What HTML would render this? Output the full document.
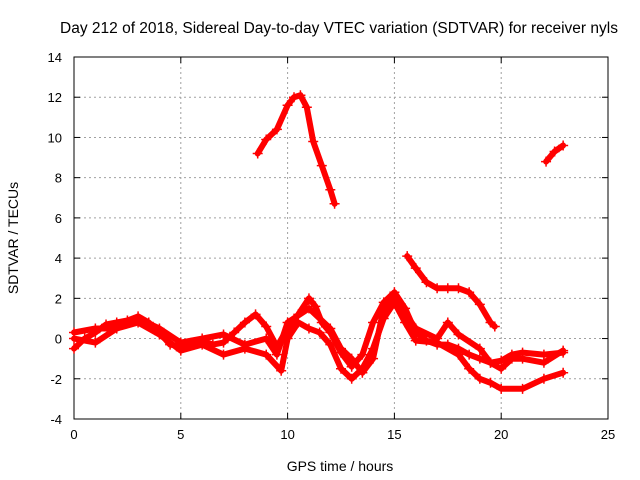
<!DOCTYPE html>
<html><head><meta charset="utf-8"><style>
body{margin:0;background:#fff;}
svg{display:block;font-family:"Liberation Sans",sans-serif;}
</style></head><body>
<svg id="chart" width="640" height="480" viewBox="0 0 640 480">
<rect width="640" height="480" fill="#fff"/>
<text x="339" y="33" font-size="15.5" text-anchor="middle">Day 212 of 2018, Sidereal Day-to-day VTEC variation (SDTVAR) for receiver nyls</text>
<g id="grid"></g>
<g id="axes"></g>
<g id="series"></g>
<text x="340" y="471" font-size="14" text-anchor="middle">GPS time / hours</text>
<text x="0" y="0" font-size="14" text-anchor="middle" transform="translate(18,238) rotate(-90)">SDTVAR / TECUs</text>
</svg>
<script>
const xTicks=[0,5,10,15,20,25];
const yTicks=[-4,-2,0,2,4,6,8,10,12,14];
const seriesA_t=[8.6,9,9.5,10,10.3,10.6,10.9,11.2,11.6,12,12.2];
const seriesA_v=[9.2,9.9,10.4,11.6,12,12.1,11.5,9.8,8.6,7.4,6.7];
const seriesB_t=[22.1,22.5,22.9];
const seriesB_v=[8.8,9.3,9.6];
const seriesC_t=[15.6,16,16.5,17,17.5,18,18.5,19,19.5,19.7];
const seriesC_v=[4.1,3.5,2.8,2.5,2.5,2.5,2.3,1.7,0.8,0.6];
const seriesD_t=[0,0.5,1,1.5,2,2.5,3,3.5,4,4.5,5,5.5,6,6.5,7,7.5,8,8.5,9,9.5,10,10.5,11,11.3,11.6,12,12.5,13,13.5,14,14.5,15,15.5,16,16.5,17,17.5,18,18.5,19,19.5,20,20.5,21,22,22.9];
const seriesD_v=[-0.5,0,0.3,0.7,0.8,0.9,1.1,0.8,0.3,-0.3,-0.4,-0.2,-0.1,-0.3,-0.2,0.3,0.8,1.2,0.6,-0.4,0.5,1.2,2,1.6,0.8,0.3,-0.7,-1.4,-0.8,0.8,1.8,2.3,1.5,0.3,-0.1,-0.3,-0.3,-0.5,-0.8,-1,-1.2,-1.1,-0.8,-0.7,-0.8,-0.7];
const seriesE_t=[0,1,2,3,4,5,6,7,8,9,9.7,10,10.5,11,11.5,12,12.5,13,13.5,14,14.5,15,15.5,16,17,18,18.5,19,19.5,20,21,22,22.9];
const seriesE_v=[0.3,0.5,0.5,0.8,0.2,-0.6,-0.3,-0.8,-0.5,-0.8,-1.6,0,0.8,0.5,0.3,-0.3,-1.5,-2,-1.5,-0.5,1,1.8,0.8,-0.1,-0.2,-0.8,-1.5,-2,-2.2,-2.5,-2.5,-2,-1.7];
const seriesF_t=[0,1,2,3,4,5,6,7,8,9,9.5,10,11,12,12.5,13,13.5,14,14.5,15,16,17,17.5,18,19,19.5,20,20.5,21,22,22.9];
const seriesF_v=[0,-0.2,0.5,1,0.5,-0.2,0,0.2,-0.3,0,-0.8,0.8,1.5,0.5,-0.5,-1,-1.7,-1,1.5,2,0.5,0,0.8,0.2,-0.5,-1.2,-1.5,-1,-1,-1.2,-0.6];
const allSeries=[[seriesA_t,seriesA_v],[seriesB_t,seriesB_v],[seriesC_t,seriesC_v],[seriesD_t,seriesD_v],[seriesE_t,seriesE_v],[seriesF_t,seriesF_v]];
const L=74,R=608,T=57,B=419,xMin=0,xMax=25,yMin=-4,yMax=14;
function xs(v){return L+(v-xMin)/(xMax-xMin)*(R-L);}
function ys(v){return B-(v-yMin)/(yMax-yMin)*(B-T);}
const NS="http://www.w3.org/2000/svg";
function mk(tag,attrs,parent){const e=document.createElementNS(NS,tag);for(const k in attrs)e.setAttribute(k,attrs[k]);parent.appendChild(e);return e;}
const grid=document.getElementById('grid'),axes=document.getElementById('axes'),ser=document.getElementById('series');
xTicks.forEach(t=>{
  const x=xs(t);
  if(t>xMin&&t<xMax){const g=mk('line',{x1:x,x2:x,y1:T,y2:B,stroke:'#a0a0a0','stroke-dasharray':'2,3','stroke-width':1},grid);
  
  }
  const tk=mk('text',{x:x,y:B+20,'font-size':13,'text-anchor':'middle'},axes);tk.textContent=t;
  
  
  mk('line',{x1:x,x2:x,y1:B,y2:B-6,stroke:'#000'},axes);
  mk('line',{x1:x,x2:x,y1:T,y2:T+6,stroke:'#000'},axes);
});
yTicks.forEach(t=>{
  const y=ys(t);
  if(t>yMin&&t<yMax){const g=mk('line',{x1:L,x2:R,y1:y,y2:y,stroke:'#a0a0a0','stroke-dasharray':'2,3','stroke-width':1},grid);
  
  }
  const tk=mk('text',{x:L-12,y:y+5,'font-size':13,'text-anchor':'end'},axes);tk.textContent=t;
  
  
  mk('line',{x1:L,x2:L+6,y1:y,y2:y,stroke:'#000'},axes);
  mk('line',{x1:R,x2:R-6,y1:y,y2:y,stroke:'#000'},axes);
});
const fr=mk('rect',{x:L,y:T,width:R-L,height:B-T,fill:'none',stroke:'#000'},axes);


allSeries.forEach(([ts,vs],i)=>{
  const pts=ts.map((t,j)=>xs(t).toFixed(1)+','+ys(vs[j]).toFixed(1)).join(' ');
  const pl=mk('polyline',{points:pts,fill:'none',stroke:'#f00','stroke-width':6,'stroke-linejoin':'round','stroke-linecap':'round'},ser);
  
  
  ts.forEach((t,j)=>{
    const x=xs(t),y=ys(vs[j]);
    const p=mk('path',{d:`M${x-5},${y}H${x+5}M${x},${y-5}V${y+5}`,stroke:'#f00','stroke-width':1.5},ser);
    
    
  });
});
</script>
</body></html>
